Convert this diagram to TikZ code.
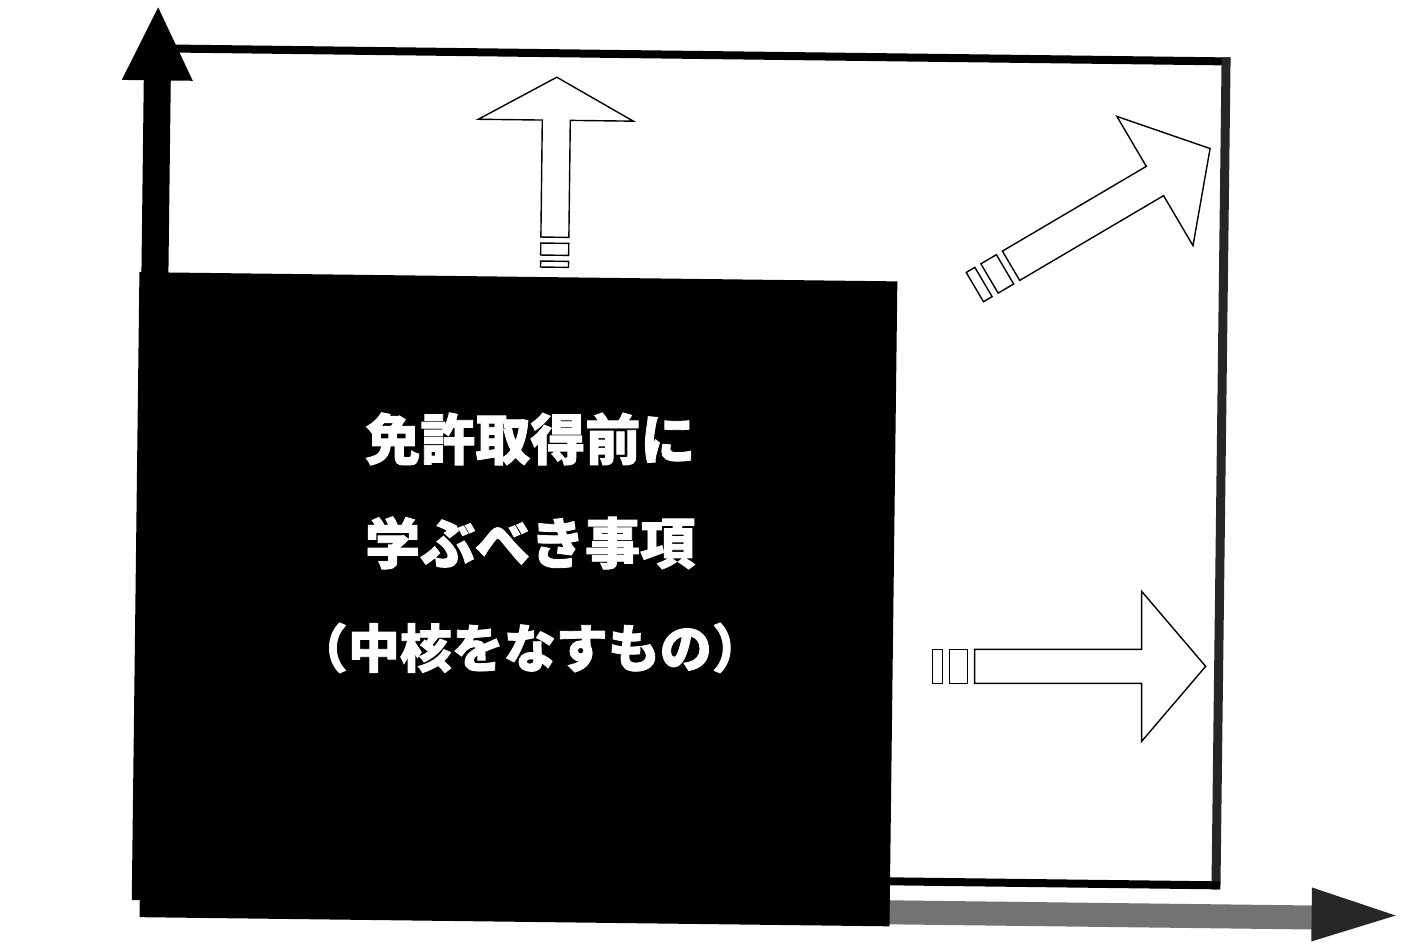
\documentclass[tikz,border=0pt]{standalone}
\usepackage{fontspec}
\newfontfamily\cjk[BoldFeatures={FakeBold=1.5}]{Noto Sans CJK JP}
\begin{document}
\begin{tikzpicture}[x=1pt,y=1pt,
  outl/.style={draw=black,line width=1.4pt,fill=white,line join=miter},
  jtext/.style={text=white,font=\cjk\bfseries\fontsize{55}{55}\selectfont,inner sep=0pt,anchor=center},
  pics/bigarrow/.style={code={
    \draw[outl] (0,-17) -- (167,-17) -- (167,-75) -- (231,0) -- (167,75) -- (167,17) -- (0,17) -- cycle;
    \draw[outl] (-25,-17) rectangle (-7,17);
    \draw[outl] (-42,-17) rectangle (-32,17);
  }}]
\useasboundingbox (0,0) rectangle (1405,947);
\fill[white] (0,0) rectangle (1405,947);
\begin{scope}[rotate around={-0.7:(700,474)}]
% frame
\draw[line width=8pt,black] (160,892) -- (1225,892);
\draw[line width=9pt,black!85] (1221,896) -- (1221,64);
\draw[line width=8pt,black] (1225,68) -- (890,68);
% horizontal axis
\fill[black!55] (880,25) rectangle (1322,49);
\fill[black!85] (1317,67) -- (1401,40) -- (1317,13) -- cycle;
% black box
\fill[black] (137,40) rectangle (895,668);
\fill[black] (145,23) rectangle (895,42);
% vertical axis
\fill[black] (139,650) rectangle (166,861);
\fill[black] (117,860) -- (152.5,933) -- (188,860) -- cycle;
% texts
\node[jtext] (t1) at (530,506) {免許取得前に};
\node[jtext] (t2) at (531,402) {学ぶべき事項};
\node[jtext,font=\cjk\bfseries\fontsize{52}{52}\selectfont] (t3) at (532,297) {（中核をなすもの）};
% up arrow
\draw[outl] (538,708) -- (538,825) -- (474,825) -- (552,868) -- (629,825) -- (566,825) -- (566,708) -- cycle;
\draw[outl] (538,690) rectangle (566,702);
\draw[outl] (538,678) rectangle (566,684);
% right arrows
\pic at (977,284) {bigarrow};
\pic[rotate=30.5] at (1008.5,685) {bigarrow};
\end{scope}
\end{tikzpicture}
\end{document}
